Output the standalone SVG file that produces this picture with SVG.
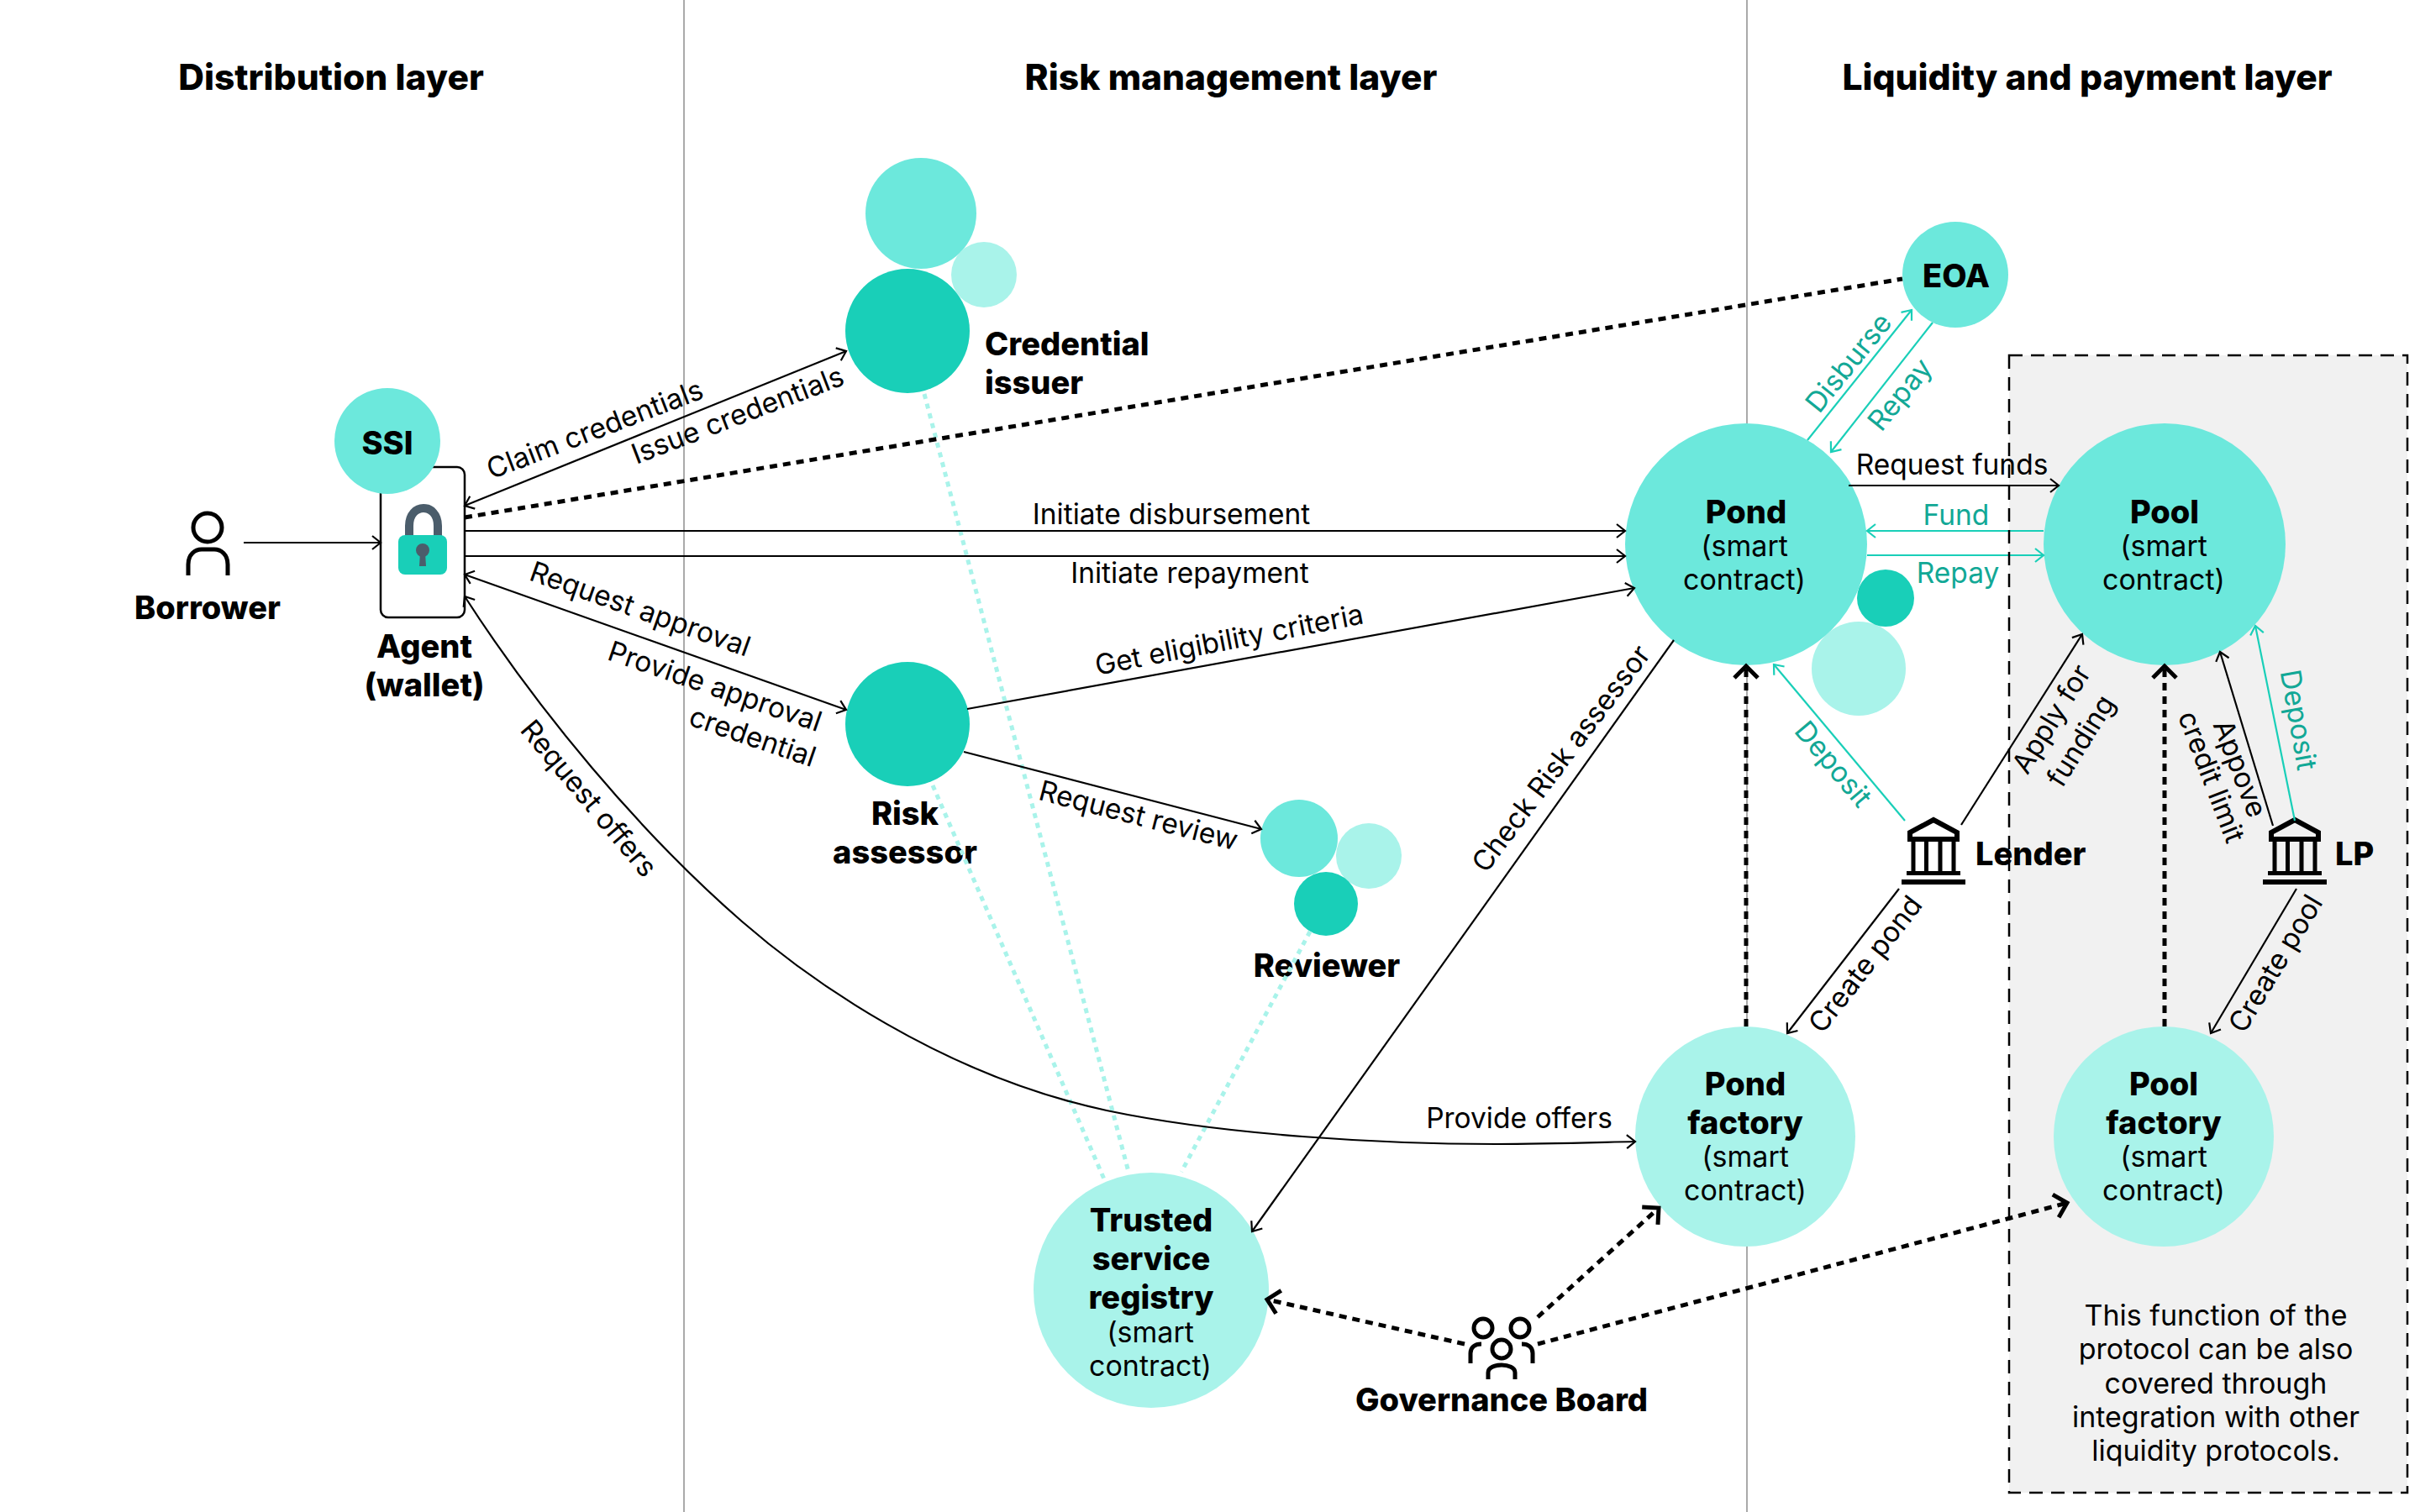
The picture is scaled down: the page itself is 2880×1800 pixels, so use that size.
<svg xmlns="http://www.w3.org/2000/svg" width="2880" height="1800" viewBox="0 0 2880 1800">
<style>
text{font-family:"Inter","Liberation Sans",sans-serif;fill:#000}
.b{font-weight:800;font-size:38px;text-anchor:middle}
.h{font-weight:800;font-size:42.500px;text-anchor:middle}
.r{font-weight:400;font-size:34px;text-anchor:middle}
.l{font-weight:400;font-size:33.500px;text-anchor:middle}
.t{fill:#12a896}
.dark{fill:#19cfb8}.mid{fill:#6ce8dc}.pale{fill:#a9f3ea}
.c{fill:none;stroke:#000;stroke-width:2.2}
.ct{fill:none;stroke:#19cfb8;stroke-width:2.2}
.d{fill:none;stroke:#000;stroke-width:5;stroke-dasharray:9 7}
.g{fill:none;stroke:#a9f3ea;stroke-width:5;stroke-dasharray:6 6}
.i{fill:none;stroke:#000;stroke-width:5}
</style>
<defs>
<marker id="a" markerUnits="userSpaceOnUse" markerWidth="30" markerHeight="30" refX="14" refY="15" orient="auto-start-reverse"><path d="M4,7 L14,15 L4,23" fill="none" stroke="#000" stroke-width="2.2"/></marker>
<marker id="at" markerUnits="userSpaceOnUse" markerWidth="30" markerHeight="30" refX="14" refY="15" orient="auto-start-reverse"><path d="M4,7 L14,15 L4,23" fill="none" stroke="#19cfb8" stroke-width="2.2"/></marker>
<marker id="ad" markerUnits="userSpaceOnUse" markerWidth="40" markerHeight="40" refX="24" refY="20" orient="auto"><path d="M10,6 L24,20 L10,34" fill="none" stroke="#000" stroke-width="5"/></marker>
<g id="bank"><path d="M-28,21 V13 L0,-2 L28,13 V21 Z" fill="none" stroke="#000" stroke-width="6"/><path d="M-24,21V61M-8.500,21V61M8,21V61M24,21V61" stroke="#000" stroke-width="5"/><rect x="-32" y="59" width="64" height="5"/><rect x="-38" y="69" width="76" height="6"/></g>
</defs>
<rect width="2880" height="1800" fill="#fff"/>
<path d="M814,0V1800M2079,0V1800" stroke="#aaa" stroke-width="2" fill="none"/>
<rect x="2391" y="423" width="474" height="1354" fill="#f1f1f1"/>
<g id="headers">
<text class="h" x="394" y="107">Distribution layer</text>
<text class="h" x="1465" y="107">Risk management layer</text>
<text class="h" x="2484" y="107">Liquidity and payment layer</text>
</g>
<g id="borrower"><circle cx="247" cy="628" r="17" class="i"/><path d="M224,685V672C224,660 232,654 240,654H255C263,654 271,660 271,672V685" class="i"/><text class="b" x="247" y="737">Borrower</text></g>
<g id="agent"><rect x="453" y="556" width="100" height="179" rx="9" fill="#fff" stroke="#000" stroke-width="2.5"/>
<path d="M487,640V626C487,598 521,598 521,626V640" fill="none" stroke="#4b5d6b" stroke-width="10"/><rect x="474" y="637" width="58" height="47" rx="8" class="dark"/><circle cx="503" cy="655" r="8" fill="#4b5d6b"/><path d="M500,658H506L507,674H499Z" fill="#4b5d6b"/>
<text class="b" x="505" y="783">Agent</text><text class="b" x="505" y="829">(wallet)</text></g>
<g id="ssi"><circle cx="461" cy="525" r="63" class="mid"/><text class="b" x="461" y="541">SSI</text></g>
<g id="credential-issuer"><circle cx="1096" cy="254" r="66" class="mid"/><circle cx="1171" cy="327" r="39" class="pale"/><circle cx="1080" cy="394" r="74" class="dark"/><text class="b" style="text-anchor:start" x="1172" y="423">Credential</text><text class="b" style="text-anchor:start" x="1172" y="469">issuer</text></g>
<g id="risk-assessor"><circle cx="1080" cy="862" r="74" class="dark"/><text class="b" x="1077" y="982">Risk</text><text class="b" x="1077" y="1028">assessor</text></g>
<g id="reviewer"><circle cx="1546" cy="998" r="46" class="mid"/><circle cx="1629" cy="1019" r="39" class="pale"/><circle cx="1578" cy="1076" r="38" class="dark"/><text class="b" x="1579" y="1163">Reviewer</text></g>
<g id="eoa"><circle cx="2327" cy="327" r="63" class="mid"/><text class="b" x="2328" y="342">EOA</text></g>
<g id="pond"><circle cx="2212" cy="796" r="56" class="pale"/><circle cx="2244" cy="712" r="34" class="dark"/><circle cx="2078" cy="648" r="144" class="mid"/><text class="b" x="2078" y="623">Pond</text><text class="r" x="2076" y="662">(smart</text><text class="r" x="2076" y="702">contract)</text></g>
<g id="pool"><circle cx="2576" cy="648" r="144" class="mid"/><text class="b" x="2576" y="623">Pool</text><text class="r" x="2575" y="662">(smart</text><text class="r" x="2575" y="702">contract)</text></g>
<g id="lender"><use href="#bank" x="2301" y="978"/><text class="b" style="text-anchor:start" x="2351" y="1030">Lender</text></g>
<g id="lp"><use href="#bank" x="2731" y="978"/><text class="b" style="text-anchor:start" x="2779" y="1030">LP</text></g>
<g id="pond-factory"><circle cx="2077" cy="1353" r="131" class="pale"/><text class="b" x="2077" y="1304">Pond</text><text class="b" x="2077" y="1350">factory</text><text class="r" x="2077" y="1389">(smart</text><text class="r" x="2077" y="1429">contract)</text></g>
<g id="pool-factory"><circle cx="2575" cy="1353" r="131" class="pale"/><text class="b" x="2575" y="1304">Pool</text><text class="b" x="2575" y="1350">factory</text><text class="r" x="2575" y="1389">(smart</text><text class="r" x="2575" y="1429">contract)</text></g>
<g id="registry"><circle cx="1370" cy="1536" r="140" class="pale"/><text class="b" x="1370" y="1466">Trusted</text><text class="b" x="1370" y="1512">service</text><text class="b" x="1370" y="1558">registry</text><text class="r" x="1369" y="1598">(smart</text><text class="r" x="1369" y="1638">contract)</text></g>
<g id="governance"><circle cx="1765" cy="1581" r="11" class="i"/><circle cx="1809" cy="1581" r="11" class="i"/><circle cx="1787" cy="1606" r="11" class="i"/><path d="M1750,1623V1611C1750,1604 1755,1600 1763,1600M1824,1623V1611C1824,1604 1819,1600 1811,1600M1771,1642V1634C1771,1622 1803,1622 1803,1634V1642" class="i"/><text class="b" x="1787" y="1680">Governance Board</text></g>
<g id="note"><text class="r" x="2637" y="1578">This function of the</text><text class="r" x="2637" y="1618">protocol can be also</text><text class="r" x="2637" y="1659">covered through</text><text class="r" x="2637" y="1699">integration with other</text><text class="r" x="2637" y="1739">liquidity protocols.</text></g>
<g id="connectors">
<path class="g" d="M1110,935L1315,1406M1100,469L1343,1395M1559,1109L1406,1395"/>
<path class="c" marker-end="url(#a)" d="M290,646H453"/>
<path class="c" marker-start="url(#a)" marker-end="url(#a)" d="M553,602L1007,418"/>
<path class="d" d="M553,616L2264,332"/>
<path class="c" marker-end="url(#a)" d="M553,632H1934"/>
<path class="c" marker-end="url(#a)" d="M553,662H1934"/>
<path class="c" marker-start="url(#a)" marker-end="url(#a)" d="M553,684L1007,845"/>
<path class="c" marker-start="url(#a)" marker-end="url(#a)" d="M553,710C640,845 760,990 883,1097C960,1164 1120,1280 1317,1322C1460,1352 1650,1362 1780,1362C1840,1362 1900,1360 1946,1359"/>
<path class="c" marker-end="url(#a)" d="M1151,844L1945,700"/>
<path class="c" marker-end="url(#a)" d="M1147,895L1501,987"/>
<path class="c" marker-end="url(#a)" d="M1992,762L1490,1466"/>
<path class="ct" marker-end="url(#at)" d="M2151,524L2275,369"/>
<path class="ct" marker-end="url(#at)" d="M2300,384L2179,538"/>
<path class="c" marker-end="url(#a)" d="M2200,578H2450"/>
<path class="ct" marker-end="url(#at)" d="M2432,632H2222"/>
<path class="ct" marker-end="url(#at)" d="M2222,661H2432"/>
<path class="ct" marker-end="url(#at)" d="M2267,977L2111,791"/>
<path class="c" marker-end="url(#a)" d="M2334,982L2478,755"/>
<path class="c" marker-end="url(#a)" d="M2705,983L2642,776"/>
<path class="ct" marker-end="url(#at)" d="M2731,977L2684,745"/>
<path class="c" marker-end="url(#a)" d="M2260,1058L2127,1230"/>
<path class="c" marker-end="url(#a)" d="M2733,1058L2631,1230"/>
<path class="d" marker-end="url(#ad)" d="M2078,1222V793"/>
<path class="d" marker-end="url(#ad)" d="M2576,1222V793"/>
<path class="d" marker-end="url(#ad)" d="M1743,1600L1508,1547"/>
<path class="d" marker-end="url(#ad)" d="M1830,1568L1974,1438"/>
<path class="d" marker-end="url(#ad)" d="M1830,1600L2460,1432"/>
</g>
<g id="labels">
<text class="l" transform="translate(712,522) rotate(-21)">Claim credentials</text>
<text class="l" transform="translate(882,505) rotate(-21)">Issue credentials</text>
<text class="l" x="1394" y="624">Initiate disbursement</text>
<text class="l" x="1416" y="694">Initiate repayment</text>
<text class="l" transform="translate(758,736) rotate(19.500)">Request approval</text>
<text class="l" transform="translate(847,828) rotate(19)">Provide approval</text>
<text class="l" transform="translate(892,888) rotate(19)">credential</text>
<text class="l" transform="translate(692,958) rotate(50)">Request offers</text>
<text class="l" x="1808" y="1343">Provide offers</text>
<text class="l" transform="translate(1465,773) rotate(-11)">Get eligibility criteria</text>
<text class="l" transform="translate(1352,982) rotate(14.500)">Request review</text>
<text class="l" transform="translate(1867,910) rotate(-53)">Check Risk assessor</text>
<text class="l t" transform="translate(2209,439) rotate(-51)">Disburse</text>
<text class="l t" transform="translate(2270,477) rotate(-51)">Repay</text>
<text class="l" x="2323" y="565">Request funds</text>
<text class="l t" x="2328" y="625">Fund</text>
<text class="l t" x="2330" y="694">Repay</text>
<text class="l t" transform="translate(2173,917) rotate(50)">Deposit</text>
<text class="l" transform="translate(2451,862) rotate(-58)">Apply for</text>
<text class="l" transform="translate(2486,888) rotate(-58)">funding</text>
<text class="l" transform="translate(2655,919) rotate(69)">Appove</text>
<text class="l" transform="translate(2621,929) rotate(69)">credit limit</text>
<text class="l t" transform="translate(2724,859) rotate(80)">Deposit</text>
<text class="l" transform="translate(2229,1155) rotate(-52)">Create pond</text>
<text class="l" transform="translate(2718,1153) rotate(-59)">Create pool</text>
</g>
<rect x="2391" y="423" width="474" height="1354" fill="none" stroke="#000" stroke-width="2.5" stroke-dasharray="16 10"/>
</svg>
